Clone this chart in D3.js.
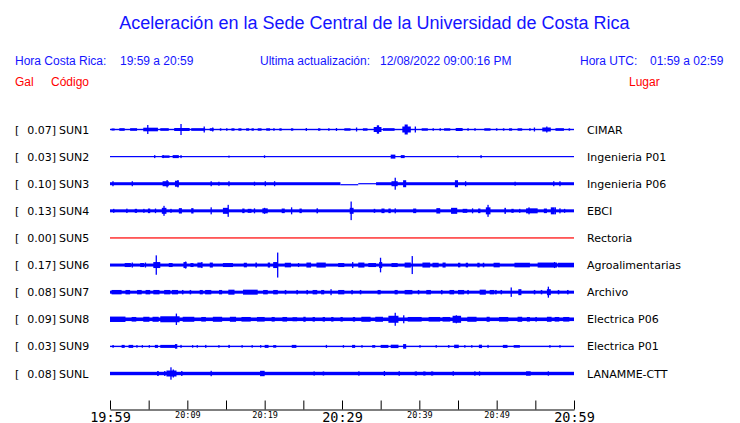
<!DOCTYPE html>
<html><head><meta charset="utf-8">
<script src="https://cdn.jsdelivr.net/npm/d3@7"></script>
<style>body{margin:0;background:#fff}svg{display:block}</style>
</head><body><svg id="c" width="740" height="423"></svg>
<script>
// ---------- data ----------
const codes = ["SUN1","SUN2","SUN3","SUN4","SUN5","SUN6","SUN7","SUN8","SUN9","SUNL"];
const gal = ["0.07","0.03","0.10","0.13","0.00","0.17","0.08","0.09","0.03","0.08"];
const places = ["CIMAR","Ingenieria P01","Ingenieria P06","EBCI","Rectoria","Agroalimentarias","Archivo","Electrica P06","Electrica P01","LANAMME-CTT"];
const traceColor = ["blue","blue","blue","blue","red","blue","blue","blue","blue","blue"];
// background noise level segments: [startMin, endMin, halfAmp, offset]
const noise = [
  [[0,60,0.7,0]],
  [[0,60,0.5,0]],
  [[0,29.8,1.5,0],[29.8,32.1,0.5,1],[32.1,34.4,0.5,0],[34.4,60,1.5,0]],
  [[0,60,1.5,0]],
  [[0,60,0.6,0]],
  [[0,60,1.5,0]],
  [[0,60,1.5,0]],
  [[0,60,1.8,0]],
  [[0,60,0.7,0]],
  [[0,60,1.7,0]]
];
// events: [minute, halfAmplitude, durationMin]
const ev_SUN1 = [[0.2,1,0.4],[1.2,1.3,0.7],[2.6,1.3,0.9],[4.3,1.8,1.9],[4.8,4.5,0],[6.5,1.3,1.1],[8.3,1.5,2],[9.1,5.5,0],[10.5,1.3,1.8],[12.1,3,0],[12.9,1.3,0.5],[13.2,2,0],[14.2,1.2,0.2],[15.0,1.2,0.2],[15.7,1.2,0.4],[16.6,1.2,0.4],[17.6,1.2,0.4],[18.3,1.2,0.3],[19.1,1.2,0.5],[20.2,1.2,0.5],[21.1,1.2,0.2],[21.9,1.2,0.3],[23.4,1.2,0.3],[25.3,1.5,0.1],[26.9,1.2,0.3],[28.2,1.2,0.2],[29.2,1.5,0.1],[30.3,1.2,0.8],[31.8,2,0],[32.7,1.2,0.6],[34.1,2.5,1],[34.5,4.2,0.3],[35.3,1.3,1.5],[37.8,3,1.1],[38.1,5,0.4],[39.4,3,0],[40.3,1.2,0.8],[41.7,1.2,0.2],[42.6,1.2,0.2],[43.2,1.2,0.8],[44.7,1.5,0.9],[46.2,1.2,0.2],[47.1,1.2,0.2],[48.4,1.2,0.8],[49.9,1.2,0.2],[50.8,1.2,0.2],[51.6,1.2,0.4],[52.7,1.2,0.6],[54.2,1.2,0.2],[54.8,2,0],[55.9,2,1.1],[56.4,3,0],[57.6,1.3,1.1],[59.3,1.2,0.2]];
const ev_SUN2 = [[5.7,1.5,0],[6.7,1.2,1],[6.8,1.5,0],[8.1,1.5,0.8],[9.1,1.5,0],[15.3,1,0],[19.9,1.3,0.1],[36.3,2,0.6],[37.6,1.5,0.5],[44.9,1,0.1],[47.9,1.5,0]];
const ev_SUN3 = [[0.3,2.5,0],[2.8,2.5,0],[6.8,2.5,0.8],[7.3,3.7,0],[8.4,3,0.5],[8.7,3.7,0],[13.0,2.5,0],[14.0,2,0],[15.3,2.5,0],[18.6,2,0],[20.0,2.5,0],[21.2,2.5,0],[36.4,2.5,0.8],[36.8,6,0],[37.9,3.5,0.4],[44.6,3.5,0.4],[45.9,2.5,0],[52.3,2,0],[57.3,2.5,0],[58.1,2.5,0]];
const ev_SUN4 = [[0.4,2,0],[2.1,2.2,0],[3.2,2,0.3],[4.3,2,0],[4.9,2.3,0.3],[5.8,2.3,0],[6.7,3,0.6],[6.9,5,0],[7.8,2,0],[8.9,2.7,0.4],[10.5,2.7,0.3],[13.0,3.5,0],[14.6,3,0.7],[15.2,6,0],[17.1,2.3,0.3],[17.8,2,0.5],[18.6,2.5,0],[19.7,2.5,0.7],[19.9,3,0],[22.2,2.3,0.4],[23.4,3.5,0],[24.5,2.3,0.3],[26.7,2.5,0.2],[31.0,3,0.5],[31.1,9.3,0],[34.1,2,0.2],[35.1,2.3,0.4],[36.0,2.3,0.3],[36.8,2.5,0],[39.2,2.3,0.4],[42.2,2.7,0.5],[44.1,3,0.8],[45.6,2,0.6],[46.8,2.5,0],[47.6,2.3,0.3],[48.6,3.5,0.6],[48.8,6,0],[51.0,3,0.2],[51.9,2,0.3],[52.9,2,0],[53.8,2.5,1.5],[54.1,3.5,0],[56.1,2.3,0.4],[57.0,3.5,0.5],[57.5,3.5,0],[58.1,2.5,0],[58.7,2,0]];
const ev_SUN5 = [];
const ev_SUN6 = [[1.9,2,0.8],[2.8,2.5,0],[3.9,2,0.5],[4.5,2.5,0],[5.6,3,0.9],[5.9,9.7,0],[7.6,2,0.5],[9.5,3,0.4],[9.7,3.5,0],[10.4,2,0.4],[11.3,2.5,0.6],[11.8,3,0],[12.9,2.5,0.4],[14.6,2,1.3],[17.3,2.3,0.4],[18.8,2.5,0.2],[20.4,2.5,0.3],[21.1,3,0.6],[21.6,12.5,0],[22.6,2.3,0.8],[24.3,2,0],[25.4,2.5,0.6],[26.7,2.5,1.2],[29.5,2,0.8],[31.3,3,0],[32.1,2.5,0.8],[33.4,2,1],[34.8,3,0.4],[34.9,7.3,0],[36.4,2,0.8],[38.1,2.5,0.8],[39.0,9,0],[40.4,2.5,1],[41.7,2.3,0.8],[43.0,2.5,0.4],[45.0,2.3,0.3],[46.0,2.3,0.3],[47.5,2.3,0.3],[48.2,2.3,0.2],[49.6,2.3,0.8],[52.3,2.3,2],[55.3,2.5,2.5],[57.4,3,0],[57.9,2.3,2.1]];
const ev_SUN7 = [[0.2,2.2,1.3],[2.0,2.2,0.6],[3.5,2.2,0.6],[4.6,2.2,0.6],[5.6,2.2,0.8],[7.0,2.2,0.8],[8.0,2.2,0.8],[9.3,2.2,0.2],[10.3,2.2,0.2],[11.6,2.2,0.4],[12.3,2.2,0.8],[14.1,2.2,0.4],[15.3,2.5,0.8],[17.2,2.5,1.9],[19.8,2.2,0.6],[21.1,2.2,0.6],[22.6,2.2,0.2],[24.1,2.2,0.2],[25.4,2.2,0.2],[26.2,2.2,0.6],[27.3,2.2,0.4],[28.5,3,0],[29.5,2.2,0.8],[31.2,2.2,0.2],[32.3,2.2,0.2],[34.6,2.2,0.4],[36.8,2.2,0.4],[38.1,2.2,1],[39.8,2.2,0.2],[40.9,2.2,0.6],[42.8,2.2,0.2],[43.9,2.2,0.6],[45.0,2.2,0.8],[46.2,2.2,0.2],[47.8,2.5,0.8],[49.1,2.2,0.6],[49.8,2.2,0.2],[50.5,2.2,0.2],[51.8,4.7,0],[52.8,3,0.4],[54.8,2.2,0.2],[55.7,2.2,0.2],[56.5,3,0.5],[56.6,5.5,0],[57.9,2.2,0.2],[59.1,2.2,0.2]];
const ev_SUN8 = [[0,2.7,2],[2.8,2.3,0.6],[4.3,2.5,0.8],[5.5,2.5,0.8],[6.5,3,2.5],[8.5,5.7,0],[9.4,2.5,1.5],[11.8,2.3,0.6],[13.3,2.5,1.2],[15.5,2.5,0.8],[17.0,2.3,1.2],[19.0,2.3,1],[20.9,2.3,0.4],[22.3,2.3,0.6],[23.6,2,0.6],[25.0,2.5,0.3],[26.2,2.3,0.3],[27.5,2.3,0.3],[28.6,2.3,0.3],[29.8,2.3,0.3],[31.4,2.3,0.3],[32.5,2.5,1.2],[34.3,2.5,1],[36.0,3.5,1.3],[36.8,6.5,0],[37.9,4,0],[38.5,2.3,1.8],[41.2,2.3,1.5],[43.0,2.3,1],[44.3,3.5,1.1],[44.7,4,0],[46.2,2.5,1.2],[48.7,2.5,0.4],[50.3,2.3,1.2],[52.7,2.5,0.6],[53.9,2.3,0.4],[55.0,2.3,0.2],[56.5,2.5,0.6],[57.5,2.3,0.6],[58.6,2.3,0.8]];
const ev_SUN9 = [[0.3,1.3,0.2],[1.5,1.5,0.4],[2.4,1.5,0.6],[3.4,1.3,0],[4.1,1.3,0],[5.0,1.3,0],[5.8,1.5,0.4],[6.5,1.5,2.1],[8.4,2.3,0.3],[9.1,1.5,0],[10.6,1.3,0],[11.2,1.3,0],[12.3,1.5,0],[14.0,1.3,0],[15.3,1.5,0.2],[17.0,1.3,0],[18.3,1.3,0],[19.4,1.3,0],[20.0,1.5,0.5],[21.1,1.3,0.4],[23.5,1.5,0.6],[27.9,1.5,0],[30.1,1.3,0],[31.3,1.5,0.4],[32.5,1.3,0],[33.9,1.3,0.4],[35.0,1.5,1],[36.3,1.7,1],[37.9,2.3,0.4],[40.0,1.3,0],[42.1,1.3,0],[43.7,1.3,0.2],[44.5,1.7,0.6],[45.8,1.3,0],[46.7,1.3,0],[47.7,1.7,0.4],[48.8,1.5,0],[50.8,1.5,0.6],[52.2,1.3,0.8],[56.8,1.3,0],[58.1,1.3,0]];
const ev_SUNL = [[6.1,2.5,0.2],[7.0,2.5,0],[7.3,3,1.3],[7.8,6.2,0],[8.1,4,0],[9.2,2.5,0],[13.0,2.7,0],[19.4,2.7,0.6],[26.3,2,0.2],[27.5,2,0.2],[32.1,2.2,0],[35.4,2.5,0],[37.3,2.2,0.2],[39.4,2,0.3],[40.5,2,0.3],[41.5,2,0.3],[44.3,2.3,0],[47.1,2.2,0],[47.7,2.2,0],[53.8,2.2,0.6],[56.6,2.2,0]];
const events = [ev_SUN1,ev_SUN2,ev_SUN3,ev_SUN4,ev_SUN5,ev_SUN6,ev_SUN7,ev_SUN8,ev_SUN9,ev_SUNL];
const tickMinutes = [0,5,10,15,20,25,30,35,40,45,50,55,60];
const tickLabels = {0:"19:59",10:"20:09",20:"20:19",30:"20:29",40:"20:39",50:"20:49",60:"20:59"};
const bigTicks = [0,30,60];

// ---------- drawing ----------
const svg = d3.select("#c");
const x = d3.scaleLinear().domain([0,60]).range([110,574]);
const row = d3.scalePoint().domain(codes).range([129.5,373.5]);
const amp = d3.scaleLinear().domain([0,12]).range([0,12]);

const sans = "'Liberation Sans', Arial, Helvetica, sans-serif";
const dv = "'DejaVu Sans', sans-serif";

svg.append("text").attr("x",374.5).attr("y",29).attr("text-anchor","middle")
  .attr("fill","#1414ff").style("font-family",sans).style("font-size","18px")
  .text("Aceleración en la Sede Central de la Universidad de Costa Rica");

const hdr = [
  {t:"Hora Costa Rica:",x:15},{t:"19:59 a 20:59",x:120},
  {t:"Ultima actualización:",x:260},{t:"12/08/2022 09:00:16 PM",x:380},
  {t:"Hora UTC:",x:580},{t:"01:59 a 02:59",x:650}
];
svg.selectAll("text.h").data(hdr).join("text").attr("class","h")
  .attr("x",d=>d.x).attr("y",65).attr("fill","#1414ff")
  .style("font-family",sans).style("font-size","12px").text(d=>d.t);
const red = [{t:"Gal",x:15},{t:"Código",x:51},{t:"Lugar",x:629}];
svg.selectAll("text.r").data(red).join("text").attr("class","r")
  .attr("x",d=>d.x).attr("y",86).attr("fill","#ff0000")
  .style("font-family",sans).style("font-size","12px").text(d=>d.t);

codes.forEach((c,i)=>{
  const cy = row(c);
  const g = svg.append("g");
  g.append("text").attr("x",15).attr("y",cy+4).style("font-family",dv).style("font-size","11px").text("[");
  g.append("text").attr("x",56).attr("y",cy+4).attr("text-anchor","end").style("font-family",dv).style("font-size","11px").text(gal[i]+"]");
  g.append("text").attr("x",59).attr("y",cy+4).style("font-family",dv).style("font-size","11px").text(c);
  g.append("text").attr("x",587).attr("y",cy+4).style("font-family",dv).style("font-size","11px").text(places[i]);
  const col = traceColor[i];
  g.selectAll("rect.n").data(noise[i]).join("rect").attr("class","n")
    .attr("x",d=>x(d[0])).attr("width",d=>x(d[1])-x(d[0]))
    .attr("y",d=>cy+d[3]-Math.max(0.6,amp(d[2])))
    .attr("height",d=>2*Math.max(0.6,amp(d[2]))).attr("fill",col);
  g.selectAll("rect.e").data(events[i]).join("rect").attr("class","e")
    .attr("x",d=>x(d[0])).attr("width",d=>Math.max(1.3,x(d[0]+d[2])-x(d[0])))
    .attr("y",d=>cy-amp(d[1])).attr("height",d=>2*amp(d[1])).attr("fill",col);
});

// axis
const ax = svg.append("g").attr("transform","translate(0,409.5)")
  .call(d3.axisBottom(x).tickValues(tickMinutes).tickSizeInner(-9).tickSizeOuter(0).tickFormat(d=>tickLabels[d]||""));
ax.select(".domain").attr("stroke","#000");
ax.selectAll(".tick line").attr("stroke","#000");
ax.selectAll(".tick text").attr("fill","#000")
  .style("font-family","'DejaVu Sans Mono', monospace")
  .style("font-size",d=>bigTicks.includes(d)?"13.5px":"8.5px")
  .attr("dy",null)
  .attr("y",d=>bigTicks.includes(d)?12:8);
</script></body></html>
